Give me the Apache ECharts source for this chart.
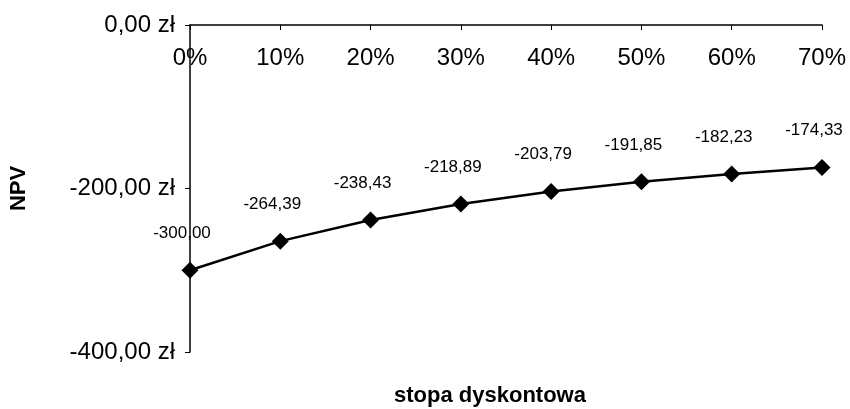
<!DOCTYPE html>
<html>
<head>
<meta charset="utf-8">
<script src="https://cdn.jsdelivr.net/npm/echarts@6/dist/echarts.min.js"></script>
<style>
  html, body { margin: 0; padding: 0; background: #fff; }
  #chart { width: 850px; height: 409px; }
</style>
</head>
<body>
<div id="chart"></div>
<script>
// stopa dyskontowa -> NPV
const rates = ['0%', '10%', '20%', '30%', '40%', '50%', '60%', '70%'];
const npv = [-300.00, -264.39, -238.43, -218.89, -203.79, -191.85, -182.23, -174.33];
const yTicks = [0, -200, -400];

function fmtPl(v) {
  return v.toFixed(2).replace('.', ',');
}

const chart = echarts.init(document.getElementById('chart'));
chart.setOption({
  animation: false,
  textStyle: { fontFamily: 'Liberation Sans, Arial, sans-serif', color: '#000' },
  title: {
    text: 'stopa dyskontowa',
    left: 485,
    textAlign: 'center',
    top: 380,
    textStyle: { fontSize: 22, fontWeight: 'bold', color: '#000', fontFamily: 'Liberation Sans, Arial, sans-serif' }
  },
  grid: { left: 190, right: 28, top: 25, bottom: 57 },
  xAxis: {
    type: 'category',
    data: rates,
    position: 'top',
    boundaryGap: false,
    axisLine: { lineStyle: { color: '#000', width: 1.5 } },
    axisTick: { inside: true, length: 5, lineStyle: { color: '#000' } },
    axisLabel: { inside: true, margin: 21, color: '#000', fontSize: 24, verticalAlign: 'top' }
  },
  yAxis: {
    type: 'value',
    min: yTicks[2],
    max: yTicks[0],
    interval: 200,
    name: 'NPV',
    nameLocation: 'middle',
    nameGap: 160,
    nameRotate: 90,
    nameTextStyle: { fontSize: 22, fontWeight: 'bold', color: '#000' },
    axisLine: { show: true, lineStyle: { color: '#000', width: 1.5 } },
    axisTick: { show: true, length: 5, lineStyle: { color: '#000' } },
    axisLabel: { color: '#000', fontSize: 24, margin: 15, formatter: v => fmtPl(v) + ' zł' },
    splitLine: { show: false }
  },
  series: [{
    type: 'line',
    data: npv,
    symbol: 'diamond',
    symbolSize: 17,
    lineStyle: { color: '#000', width: 2.5 },
    itemStyle: { color: '#000' },
    label: {
      show: true,
      position: 'top',
      distance: 20,
      offset: [-8, 0],
      fontSize: 17,
      color: '#000',
      fontFamily: 'Liberation Sans Narrow, Liberation Sans, Arial, sans-serif',
      formatter: p => fmtPl(p.value)
    }
  }]
});
</script>
</body>
</html>
